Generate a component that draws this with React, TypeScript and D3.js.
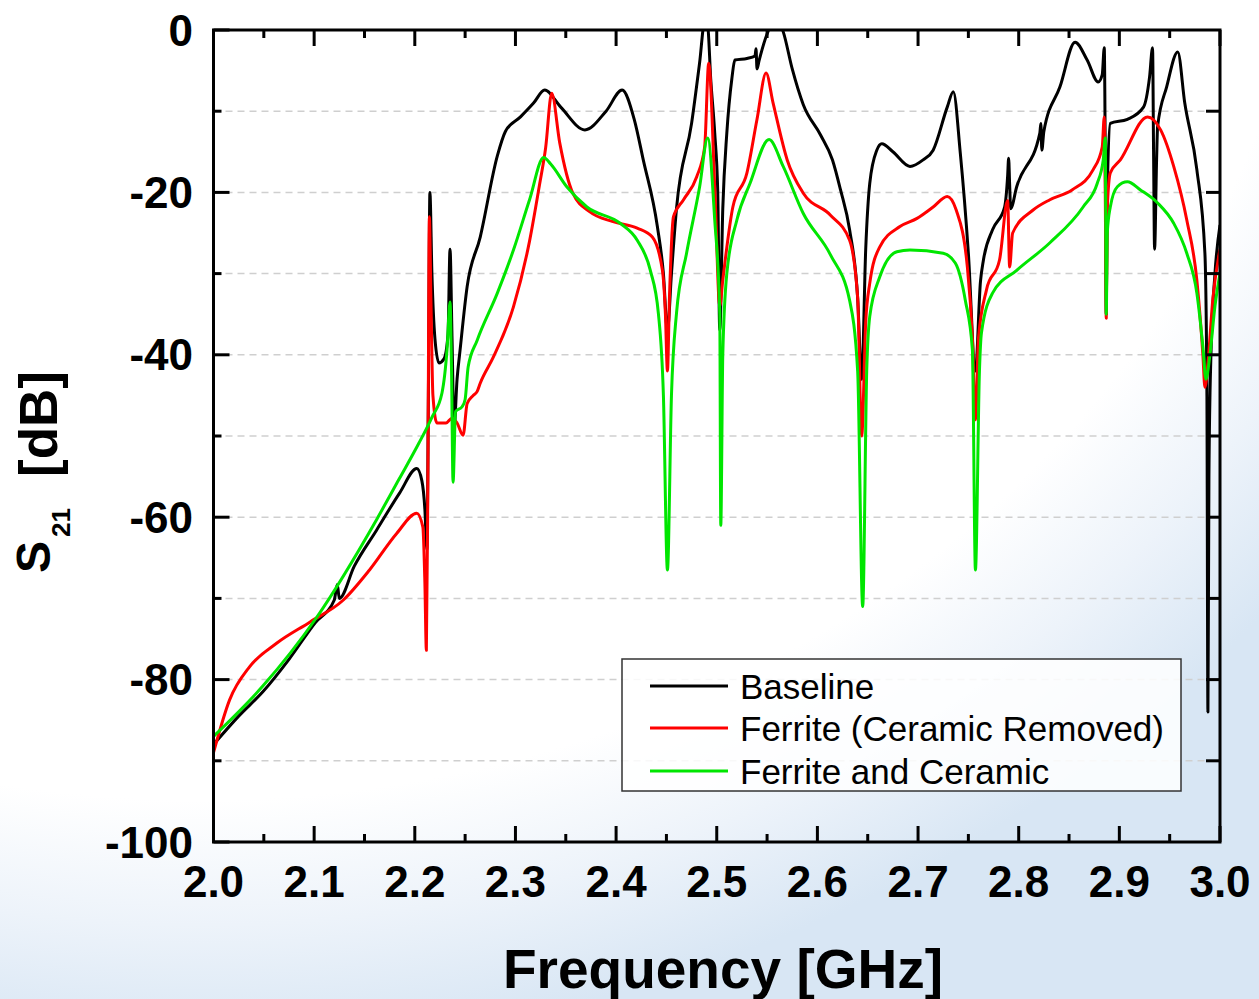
import React from "react";
import * as d3 from "d3";

// ---------- DATA (frequency GHz, S21 dB) ----------
const xTickValues = [2.0, 2.1, 2.2, 2.3, 2.4, 2.5, 2.6, 2.7, 2.8, 2.9, 3.0];
const yTickValues = [0, -20, -40, -60, -80, -100];
const gridValues = [-10, -20, -30, -40, -50, -60, -70, -80, -90];
const seriesNames = ["Baseline", "Ferrite (Ceramic Removed)", "Ferrite and Ceramic"];
const seriesColors = ["#000000", "#ff0000", "#00e600"];

const baseline: [number, number][] = [
  [2.0, -88], [2.025, -84.5], [2.049, -81.5], [2.075, -77.5], [2.101, -73], [2.12, -70.2],
  [2.123, -68.3], [2.125, -70], [2.14, -66], [2.162, -61.6], [2.185, -57], [2.202, -54],
  [2.207, -55.5], [2.21, -59], [2.212, -64], [2.2135, -45], [2.215, -20], [2.217, -30],
  [2.22, -38], [2.224, -41], [2.229, -40.5], [2.233, -37.5], [2.235, -27], [2.237, -38],
  [2.239, -49], [2.242, -43], [2.245, -39.4], [2.252, -31.6], [2.265, -25.5], [2.282, -15.5],
  [2.29, -12.5], [2.305, -10.7], [2.318, -9], [2.329, -7.4], [2.345, -9.5], [2.369, -12.3],
  [2.39, -10], [2.406, -7.4], [2.418, -11], [2.427, -16], [2.441, -24.2], [2.447, -30],
  [2.451, -37], [2.455, -30], [2.46, -22], [2.475, -11.5], [2.483, -4], [2.488, 1],
  [2.491, 0.5], [2.494, -6], [2.498, -12.7], [2.501, -20], [2.503, -37], [2.506, -22],
  [2.51, -12.7], [2.515, -6], [2.518, -3.7], [2.53, -3.5], [2.538, -3.2], [2.539, -2.3],
  [2.54, -4.8], [2.542, -3.8], [2.55, -0.5], [2.556, 1], [2.562, 1], [2.566, -0.2],
  [2.575, -4.8], [2.586, -9.2], [2.603, -12.9], [2.615, -16], [2.623, -19.7], [2.632, -24.6],
  [2.64, -33], [2.644, -43],
  [2.648, -27], [2.652, -18.9], [2.659, -14.8], [2.664, -14], [2.675, -15], [2.692, -16.8],
  [2.705, -16], [2.715, -14.8], [2.729, -9.5], [2.735, -7.6], [2.742, -15.2], [2.75, -27.5],
  [2.757, -42], [2.762, -31], [2.765, -28.3], [2.774, -24.6], [2.786, -21.8], [2.789, -18],
  [2.79, -15.8], [2.791, -19], [2.792, -22], [2.798, -19.3], [2.821, -12.7], [2.822, -11.5],
  [2.823, -14.8], [2.825, -12.5], [2.841, -7], [2.856, -1.5], [2.868, -3.7], [2.879, -6.4],
  [2.883, -5.5], [2.885, -2.2], [2.886, -15], [2.887, -35], [2.888, -20], [2.891, -11.5],
  [2.908, -11], [2.924, -9.5], [2.93, -5.8], [2.933, -2.2], [2.934, -15], [2.935, -27],
  [2.937, -16], [2.938, -11.9], [2.947, -7], [2.958, -2.7], [2.965, -9], [2.977, -17.2],
  [2.985, -27.5], [2.987, -45], [2.988, -84], [2.989, -55], [2.991, -40], [2.995, -30],
  [3.0, -24],
];

const ferrite: [number, number][] = [
  [2.0, -89], [2.016, -82.5], [2.036, -78.4], [2.063, -75.5], [2.096, -72.9], [2.129, -70.2],
  [2.155, -66.5], [2.182, -62], [2.202, -59.5], [2.208, -61.2], [2.21, -68], [2.2115, -76.4],
  [2.213, -55], [2.2145, -23], [2.216, -33], [2.218, -45], [2.222, -48.4], [2.231, -48.4],
  [2.237, -47.8], [2.242, -48.4], [2.248, -49.9], [2.252, -46], [2.258, -45], [2.262, -44.5],
  [2.265, -43.5], [2.278, -40.3], [2.298, -34.1], [2.314, -26], [2.324, -19], [2.33, -14.5],
  [2.336, -7.8], [2.344, -13.9], [2.357, -20.1], [2.374, -22.4], [2.397, -23.6], [2.421, -24.4],
  [2.436, -25.5], [2.446, -29.6], [2.449, -35], [2.451, -42], [2.453, -33], [2.457, -23],
  [2.467, -20.9], [2.48, -18.1], [2.488, -14.4], [2.492, -4.1], [2.498, -19.3], [2.503, -34],
  [2.506, -30.8], [2.516, -21.8], [2.53, -17.6], [2.54, -11], [2.549, -5.3], [2.556, -9],
  [2.57, -16], [2.586, -20.1], [2.613, -22.8], [2.632, -25.9], [2.64, -33], [2.644, -50],
  [2.648, -36], [2.652, -31.2], [2.662, -26.7], [2.682, -24.2], [2.699, -23.2], [2.715, -21.8],
  [2.729, -20.5], [2.738, -22.2], [2.749, -29.2], [2.754, -38], [2.757, -48], [2.76, -38],
  [2.768, -32], [2.781, -28.3], [2.789, -21], [2.791, -29.2], [2.794, -25], [2.814, -22.2],
  [2.831, -20.9], [2.853, -19.7], [2.874, -17.2], [2.883, -14.4], [2.885, -10.7], [2.886, -20],
  [2.887, -35.5], [2.888, -22], [2.891, -17.6], [2.901, -16], [2.928, -10.7], [2.941, -12.3],
  [2.954, -16.8], [2.967, -23.4], [2.977, -30.8], [2.983, -40], [2.985, -44], [2.988, -41],
  [2.993, -33], [3.0, -27],
];

const ferriteCeramic: [number, number][] = [
  [2.0, -87], [2.049, -80.8], [2.101, -72.6], [2.162, -60.3], [2.184, -55.4], [2.204, -50.9],
  [2.217, -47.7], [2.227, -44.7], [2.232, -39.4], [2.235, -33.5], [2.2365, -42], [2.238, -55.7],
  [2.2405, -47], [2.247, -46.4], [2.25, -45.5], [2.253, -41.5], [2.262, -38.2], [2.282, -32.4],
  [2.298, -27.1], [2.314, -20.9], [2.328, -15.7], [2.335, -16.5], [2.351, -19.3], [2.371, -21.8],
  [2.404, -23.8], [2.421, -25.9], [2.434, -29.6], [2.442, -34.9], [2.447, -45], [2.451, -66.5],
  [2.455, -45], [2.46, -34.9], [2.47, -27.5], [2.483, -19.3], [2.491, -13.3], [2.498, -23.4],
  [2.503, -34.9], [2.504, -61], [2.506, -40], [2.51, -30], [2.52, -23.4], [2.533, -18.9],
  [2.552, -13.5], [2.566, -16.8], [2.586, -22.6], [2.613, -27.7], [2.632, -33.3], [2.64, -42],
  [2.645, -71], [2.649, -42], [2.652, -35.3], [2.662, -30.4], [2.679, -27.3], [2.692, -27.1],
  [2.725, -27.5], [2.737, -28.7], [2.747, -33.3], [2.754, -39.4], [2.757, -66.5], [2.761, -42],
  [2.763, -37.3], [2.774, -32.4], [2.798, -29.6], [2.831, -26.2], [2.864, -21.8], [2.878, -18.9],
  [2.884, -16], [2.886, -13.3], [2.887, -35], [2.888, -25], [2.891, -21.8], [2.898, -19.3],
  [2.908, -18.7], [2.921, -19.7], [2.938, -21.3], [2.954, -23.8], [2.967, -27.5], [2.977, -32.4],
  [2.983, -39], [2.986, -43], [2.99, -40], [2.995, -34], [3.0, -30],
];

const allSeries = [baseline, ferrite, ferriteCeramic];

// ---------- LAYOUT ----------
const W = 1259;
const H = 999;
const X0 = 213.5;
const X1 = 1220;
const Y0 = 30;
const Y1 = 842;
const FONT = "'Liberation Sans', Arial, Helvetica, sans-serif";

export default function App() {
  const x = d3.scaleLinear().domain([2, 3]).range([X0, X1]);
  const y = d3.scaleLinear().domain([-100, 0]).range([Y1, Y0]);
  const line = d3
    .line<[number, number]>()
    .x((d) => x(d[0]))
    .y((d) => y(d[1]))
    .curve(d3.curveMonotoneX);

  const xMinor = d3.range(2.05, 3.0, 0.1);
  const yMinorLeft = d3.range(-10, -100, -20);
  const yRight = d3.range(-10, -100, -10);

  const legendRows = [686, 728, 771];

  return (
    <svg
      width={W}
      height={H}
      viewBox={`0 0 ${W} ${H}`}
      style={{ position: "absolute", left: 0, top: 0, display: "block" }}
    >
      <defs>
        <radialGradient
          id="bg"
          gradientUnits="userSpaceOnUse"
          cx={0}
          cy={0}
          r={1}
          gradientTransform="translate(200,-200) scale(1400,1250)"
        >
          <stop offset="0" stopColor="#ffffff" />
          <stop offset="0.8" stopColor="#ffffff" />
          <stop offset="0.9" stopColor="#edf3fa" />
          <stop offset="1" stopColor="#d8e6f4" />
        </radialGradient>
        <clipPath id="plotClip">
          <rect x={X0} y={Y0} width={X1 - X0} height={Y1 - Y0} />
        </clipPath>
      </defs>
      <rect x={0} y={0} width={W} height={H} fill="url(#bg)" />

      {/* grid */}
      {gridValues.map((v) => (
        <line
          key={"g" + v}
          x1={X0}
          x2={X1}
          y1={y(v)}
          y2={y(v)}
          stroke="#cfcfcf"
          strokeWidth={1.5}
          strokeDasharray="7 5"
        />
      ))}

      {/* curves */}
      <g clipPath="url(#plotClip)">
        {allSeries.map((s, i) => (
          <path
            key={"s" + i}
            d={line(s) || ""}
            fill="none"
            stroke={seriesColors[i]}
            strokeWidth={3}
            strokeLinejoin="round"
          />
        ))}
      </g>

      {/* legend */}
      <rect x={622} y={659} width={559} height={132} fill="#ffffff" fillOpacity={0.85} stroke="#333" strokeWidth={1.5} />
      {seriesNames.map((n, i) => (
        <g key={"l" + i}>
          <line x1={650} x2={728} y1={legendRows[i]} y2={legendRows[i]} stroke={seriesColors[i]} strokeWidth={3} />
          <text x={740} y={legendRows[i] + 12.5} fontFamily={FONT} fontSize={35} fill="#000">
            {n}
          </text>
        </g>
      ))}

      {/* frame */}
      <rect x={X0} y={Y0} width={X1 - X0} height={Y1 - Y0} fill="none" stroke="#000" strokeWidth={3} />

      {/* x ticks (bottom & top) */}
      {xTickValues.map((v) => (
        <g key={"xt" + v}>
          <line x1={x(v)} x2={x(v)} y1={Y1} y2={Y1 - 16} stroke="#000" strokeWidth={3} />
          <line x1={x(v)} x2={x(v)} y1={Y0} y2={Y0 + 16} stroke="#000" strokeWidth={3} />
          <text
            x={x(v)}
            y={897}
            textAnchor="middle"
            fontFamily={FONT}
            fontWeight="bold"
            fontSize={44}
            fill="#000"
          >
            {d3.format(".1f")(v)}
          </text>
        </g>
      ))}
      {xMinor.map((v) => (
        <g key={"xm" + v}>
          <line x1={x(v)} x2={x(v)} y1={Y1} y2={Y1 - 8} stroke="#000" strokeWidth={3} />
          <line x1={x(v)} x2={x(v)} y1={Y0} y2={Y0 + 8} stroke="#000" strokeWidth={3} />
        </g>
      ))}

      {/* y ticks */}
      {yTickValues.map((v) => (
        <g key={"yt" + v}>
          <line x1={X0} x2={X0 + 16} y1={y(v)} y2={y(v)} stroke="#000" strokeWidth={3} />
          <text
            x={193}
            y={y(v) + 15.5}
            textAnchor="end"
            fontFamily={FONT}
            fontWeight="bold"
            fontSize={44}
            fill="#000"
          >
            {v}
          </text>
        </g>
      ))}
      {yMinorLeft.map((v) => (
        <line key={"ym" + v} x1={X0} x2={X0 + 8} y1={y(v)} y2={y(v)} stroke="#000" strokeWidth={3} />
      ))}
      {yRight.map((v) => (
        <line key={"yr" + v} x1={X1} x2={X1 - 14} y1={y(v)} y2={y(v)} stroke="#000" strokeWidth={3} />
      ))}

      {/* axis titles */}
      <text
        x={723}
        y={988}
        textAnchor="middle"
        fontFamily={FONT}
        fontWeight="bold"
        fontSize={55}
        fill="#000"
      >
        Frequency [GHz]
      </text>
      <text transform="translate(50,573) rotate(-90)" fontFamily={FONT} fontWeight="bold" fontSize={48} fill="#000">
        S
        <tspan fontSize={26} dx={4} dy={20}>
          21
        </tspan>
      </text>
      <text transform="translate(57,477) rotate(-90)" fontFamily={FONT} fontWeight="bold" fontSize={53} fill="#000">
        [dB]
      </text>
    </svg>
  );
}
